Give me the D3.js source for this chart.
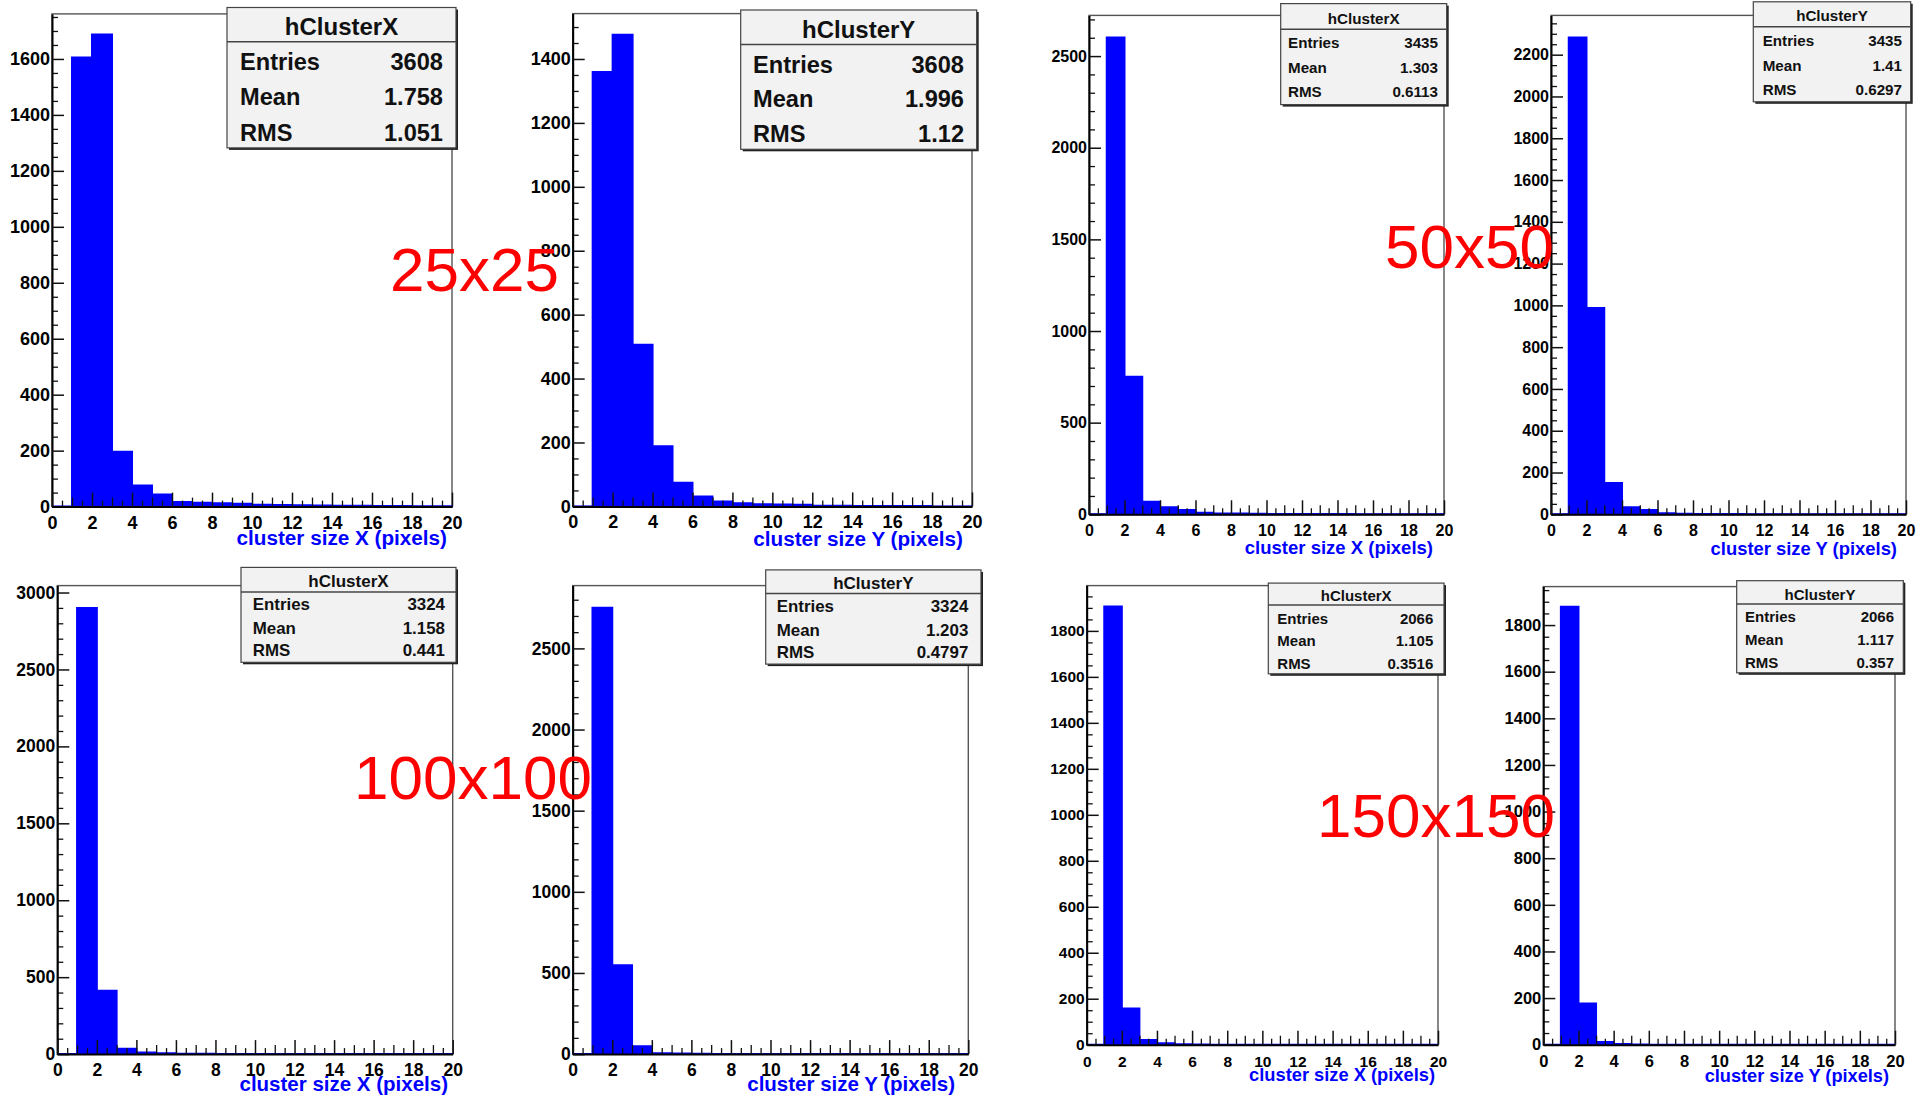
<!DOCTYPE html>
<html>
<head>
<meta charset="utf-8">
<script src="https://cdn.jsdelivr.net/npm/d3@7"></script>
<style>
  body { margin: 0; background: #fff; }
  svg text { font-family: "Liberation Sans", Arial, sans-serif; }
</style>
</head>
<body>
<svg id="chart" width="1928" height="1097"></svg>
<script>
// bins are 1 pixel wide, starting at 0
const binStarts = [0, 1, 2, 3, 4, 5, 6, 7, 8, 9, 10, 11, 12, 13, 14, 15, 16, 17, 18, 19];
const xTicks = [0, 2, 4, 6, 8, 10, 12, 14, 16, 18, 20];

const countsX25  = [0, 1605, 1687, 196, 75, 43, 16, 14, 12, 10, 7, 6, 5, 4, 3, 3, 2, 2, 1, 1];
const countsY25  = [0, 1359, 1476, 506, 188, 74, 31, 15, 10, 7, 6, 5, 2, 2, 1, 1, 1, 1, 0, 0];
const countsX50  = [0, 2601, 750, 68, 39, 23, 8, 5, 4, 3, 2, 1, 1, 1, 1, 0, 0, 0, 0, 0];
const countsY50  = [0, 2282, 988, 150, 34, 20, 5, 3, 2, 1, 1, 0, 0, 0, 0, 0, 0, 0, 0, 0];
const countsX100 = [0, 2900, 412, 34, 11, 5, 3, 2, 1, 1, 0, 0, 0, 0, 0, 0, 0, 0, 0, 0];
const countsY100 = [0, 2751, 548, 48, 6, 3, 2, 1, 1, 0, 0, 0, 0, 0, 0, 0, 0, 0, 0, 0];
const countsX150 = [0, 1906, 157, 20, 6, 2, 1, 0, 0, 0, 0, 0, 0, 0, 0, 0, 0, 0, 0, 0];
const countsY150 = [0, 1879, 177, 12, 3, 1, 0, 0, 0, 0, 0, 0, 0, 0, 0, 0, 0, 0, 0, 0];

const statNames = ["Entries", "Mean", "RMS"];
const statsX25  = ["3608", "1.758", "1.051"];
const statsY25  = ["3608", "1.996", "1.12"];
const statsX50  = ["3435", "1.303", "0.6113"];
const statsY50  = ["3435", "1.41", "0.6297"];
const statsX100 = ["3324", "1.158", "0.441"];
const statsY100 = ["3324", "1.203", "0.4797"];
const statsX150 = ["2066", "1.105", "0.3516"];
const statsY150 = ["2066", "1.117", "0.357"];

const yTicksX25  = [0, 200, 400, 600, 800, 1000, 1200, 1400, 1600];
const yTicksY25  = [0, 200, 400, 600, 800, 1000, 1200, 1400];
const yTicksX50  = [0, 500, 1000, 1500, 2000, 2500];
const yTicksY50  = [0, 200, 400, 600, 800, 1000, 1200, 1400, 1600, 1800, 2000, 2200];
const yTicksX100 = [0, 500, 1000, 1500, 2000, 2500, 3000];
const yTicksY100 = [0, 500, 1000, 1500, 2000, 2500];
const yTicksX150 = [0, 200, 400, 600, 800, 1000, 1200, 1400, 1600, 1800];
const yTicksY150 = [0, 200, 400, 600, 800, 1000, 1200, 1400, 1600, 1800];

// top of each frame, in counts
const yMaxes = [1761, 1542, 2722, 2388, 3045, 2887, 1997, 1965];

const histNames = ["hClusterX", "hClusterY"];
const axisTitles = ["cluster size X (pixels)", "cluster size Y (pixels)"];
const sizeLabels = ["25x25", "50x50", "100x100", "150x150"];

const svg = d3.select("#chart");
const BLUE = "#0000ff";

const panels = [
  {counts: countsX25, stats: statsX25, ticks: yTicksX25, minor: 50, k: 0,
   frame: [52, 13.9, 452, 506.6], box: [227, 7.5, 456, 147.9], sep: 41.8, tBase: 34.6, rows: [69.6, 105.4, 141.1],
   tl: 240, tr: 443, fsT: 24, fsR: 23.6, fsTick: 18, fsAx: 20.7, axBase: 544.6, axRight: 447},
  {counts: countsY25, stats: statsY25, ticks: yTicksY25, minor: 50, k: 1,
   frame: [572.7, 13.6, 972, 506.4], box: [740.7, 10, 976.7, 149.3], sep: 44.6, tBase: 37.5, rows: [73.2, 107.1, 142.1],
   tl: 753, tr: 964, fsT: 24, fsR: 23.6, fsTick: 18, fsAx: 20.7, axBase: 546.4, axRight: 963},
  {counts: countsX50, stats: statsX50, ticks: yTicksX50, minor: 100, k: 0,
   frame: [1089, 15.4, 1444, 514.3], box: [1280.7, 3.6, 1446.7, 104.6], sep: 29.3, tBase: 24.3, rows: [48.2, 73.2, 97.1],
   tl: 1288, tr: 1438, fsT: 15.2, fsR: 15.2, fsTick: 16, fsAx: 18.5, axBase: 553.6, axRight: 1433},
  {counts: countsY50, stats: statsY50, ticks: yTicksY50, minor: 50, k: 1,
   frame: [1551, 15.4, 1906, 514.3], box: [1753.3, 1.8, 1910.7, 101.8], sep: 26.8, tBase: 21.4, rows: [46.4, 71.4, 94.6],
   tl: 1762.7, tr: 1902, fsT: 15.2, fsR: 15.2, fsTick: 16, fsAx: 18.4, axBase: 555.4, axRight: 1897},
  {counts: countsX100, stats: statsX100, ticks: yTicksX100, minor: 100, k: 0,
   frame: [57.3, 585.6, 452.7, 1054.1], box: [241, 567.4, 456, 662.3], sep: 591.9, tBase: 586.6, rows: [610, 633.7, 655.7],
   tl: 252.7, tr: 445, fsT: 17, fsR: 16.9, fsTick: 17.5, fsAx: 20.5, axBase: 1090.7, axRight: 448},
  {counts: countsY100, stats: statsY100, ticks: yTicksY100, minor: 100, k: 1,
   frame: [572.7, 585.6, 968.3, 1054.1], box: [765.7, 569.9, 981, 664.1], sep: 593.6, tBase: 589.1, rows: [612.1, 635.5, 658.1],
   tl: 776.7, tr: 968.3, fsT: 17, fsR: 16.9, fsTick: 17.5, fsAx: 20.5, axBase: 1090.7, axRight: 955},
  {counts: countsX150, stats: statsX150, ticks: yTicksX150, minor: 50, k: 0,
   frame: [1086.7, 585.6, 1438, 1044.7], box: [1268.3, 583.1, 1444, 673.8], sep: 605.1, tBase: 600.6, rows: [624, 645.9, 669.3],
   tl: 1277.3, tr: 1433.3, fsT: 15, fsR: 15, fsTick: 15.5, fsAx: 18.3, axBase: 1081, axRight: 1435},
  {counts: countsY150, stats: statsY150, ticks: yTicksY150, minor: 50, k: 1,
   frame: [1543.3, 586.6, 1895, 1044.7], box: [1736.7, 580.7, 1903.3, 672.8], sep: 604.1, tBase: 599.5, rows: [622.2, 644.9, 667.6],
   tl: 1745, tr: 1894, fsT: 15, fsR: 15, fsTick: 16.5, fsAx: 18.2, axBase: 1082, axRight: 1889}
];

const tickFont = a => a.selectAll("text")
  .attr("fill", "#000").style("font-weight", "bold")
  .style("font-family", "'Liberation Sans', Arial, sans-serif");

panels.forEach((p, i) => {
  const [x0, y0, x1, y1] = p.frame;
  const x = d3.scaleLinear().domain([0, 20]).range([x0, x1]);
  const y = d3.scaleLinear().domain([0, yMaxes[i]]).range([y1, y0]);
  const g = svg.append("g");

  // frame
  g.append("rect")
    .attr("x", x0).attr("y", y0)
    .attr("width", x1 - x0).attr("height", y1 - y0)
    .attr("fill", "#fff").attr("stroke", "#555").attr("stroke-width", 1.4);

  // histogram as a step outline, filled
  const pts = binStarts.map((b, j) => ({x: b, v: p.counts[j]}));
  pts.push({x: 20, v: p.counts[p.counts.length - 1]});
  const area = d3.area()
    .x(d => x(d.x)).y0(y(0)).y1(d => y(d.v))
    .curve(d3.curveStepAfter);
  g.append("path")
    .datum(pts)
    .attr("d", area)
    .attr("fill", BLUE)
    .attr("stroke", BLUE).attr("stroke-width", 2);

  // y axis: minor then major ticks, pointing inside
  const minors = d3.range(0, yMaxes[i], p.minor).filter(v => !p.ticks.includes(v));
  g.append("g")
    .attr("transform", `translate(${x0},0)`)
    .call(d3.axisLeft(y).tickValues(minors).tickSize(-6).tickFormat(""))
    .call(a => a.select(".domain").remove())
    .call(a => a.selectAll("line").attr("stroke", "#111").attr("stroke-width", 1.3));
  g.append("g")
    .attr("transform", `translate(${x0},0)`)
    .call(d3.axisLeft(y).tickValues(p.ticks).tickFormat(d3.format("d"))
      .tickSize(-12).tickSizeOuter(0).tickPadding(2))
    .call(a => a.select(".domain").attr("stroke", "#000").attr("stroke-width", 2))
    .call(a => a.selectAll("line").attr("stroke", "#111").attr("stroke-width", 1.5))
    .call(tickFont)
    .call(a => a.selectAll("text").style("font-size", p.fsTick + "px"));

  // x axis: half-unit minors, unit mids, majors every 2
  const halfTicks = d3.range(0.5, 20, 1);
  const unitTicks = d3.range(1, 20, 2);
  [[halfTicks, 6], [unitTicks, 9]].forEach(([tv, len]) => {
    g.append("g")
      .attr("transform", `translate(0,${y1})`)
      .call(d3.axisBottom(x).tickValues(tv).tickSize(-len).tickFormat(""))
      .call(a => a.select(".domain").remove())
      .call(a => a.selectAll("line").attr("stroke", "#111").attr("stroke-width", 1.3));
  });
  g.append("g")
    .attr("transform", `translate(0,${y1})`)
    .call(d3.axisBottom(x).tickValues(xTicks).tickFormat(d3.format("d"))
      .tickSize(-14).tickSizeOuter(0).tickPadding(22 - 0.71 * p.fsTick))
    .call(a => a.select(".domain").attr("stroke", "#000").attr("stroke-width", 2))
    .call(a => a.selectAll("line").attr("stroke", "#111").attr("stroke-width", 1.5))
    .call(tickFont)
    .call(a => a.selectAll("text").style("font-size", p.fsTick + "px"));

  // axis title
  g.append("text")
    .text(axisTitles[p.k])
    .attr("x", p.axRight).attr("y", p.axBase)
    .attr("text-anchor", "end")
    .attr("fill", BLUE)
    .style("font-size", p.fsAx + "px").style("font-weight", "bold");

  // stats box with shadow
  const [bx0, by0, bx1, by1] = p.box;
  g.append("rect")
    .attr("x", bx0 + 2).attr("y", by0 + 2)
    .attr("width", bx1 - bx0).attr("height", by1 - by0)
    .attr("fill", "#222");
  g.append("rect")
    .attr("x", bx0).attr("y", by0)
    .attr("width", bx1 - bx0).attr("height", by1 - by0)
    .attr("fill", "#f2f2f2").attr("stroke", "#444").attr("stroke-width", 1.2);
  g.append("line")
    .attr("x1", bx0).attr("x2", bx1).attr("y1", p.sep).attr("y2", p.sep)
    .attr("stroke", "#444").attr("stroke-width", 1.5);
  g.append("text")
    .text(histNames[p.k])
    .attr("x", (bx0 + bx1) / 2).attr("y", p.tBase)
    .attr("text-anchor", "middle").attr("fill", "#111")
    .style("font-size", p.fsT + "px").style("font-weight", "bold");
  statNames.forEach((s, j) => {
    g.append("text").text(s)
      .attr("x", p.tl).attr("y", p.rows[j]).attr("fill", "#111")
      .style("font-size", p.fsR + "px").style("font-weight", "bold");
    g.append("text").text(p.stats[j])
      .attr("x", p.tr).attr("y", p.rows[j]).attr("text-anchor", "end").attr("fill", "#111")
      .style("font-size", p.fsR + "px").style("font-weight", "bold");
  });
});

// red detector size labels
const labelPos = [[390, 291], [1385, 268], [354, 799], [1317, 837]];
sizeLabels.forEach((t, i) => {
  svg.append("text")
    .text(t)
    .attr("x", labelPos[i][0]).attr("y", labelPos[i][1])
    .attr("fill", "#ff0000")
    .style("font-size", "62px");
});
</script>
</body>
</html>
